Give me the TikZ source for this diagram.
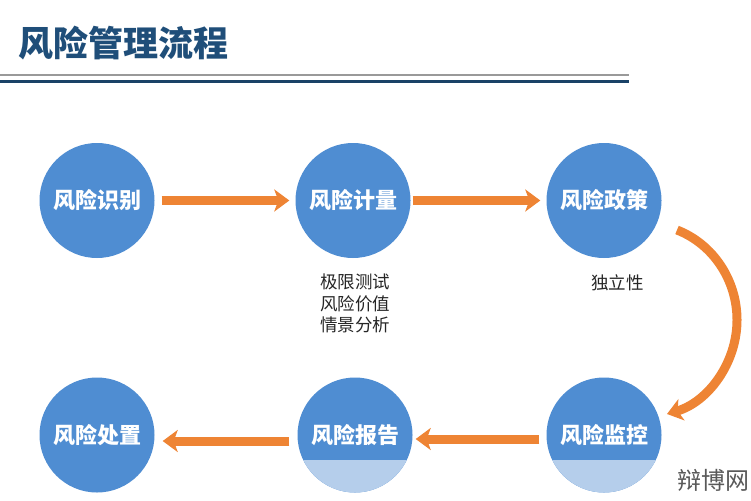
\documentclass[tikz,border=0pt]{standalone}
\usepackage{fontspec}
\setmainfont{Noto Sans CJK SC}
\usetikzlibrary{arrows.meta}
\definecolor{circ}{HTML}{4F8DD2}
\definecolor{band}{HTML}{B5CEEB}
\definecolor{org}{HTML}{EE8434}
\definecolor{ttl}{HTML}{1F4E79}
\tikzset{
  x=1pt,y=-1pt,
  stage/.style={circle,fill=circ,minimum size=115pt,inner sep=0pt,text=white,font=\fontsize{22}{24}\selectfont\bfseries},
  banded/.style={stage,path picture={\fill[band] ([xshift=-60pt,yshift=-25pt]path picture bounding box.center) rectangle ([xshift=60pt,yshift=-60pt]path picture bounding box.center);}},
  flow/.style={draw=org,line width=9pt,-{Stealth[length=15pt,width=22pt,inset=4pt]}},
  note/.style={align=center,text=black!85,font=\fontsize{17.5}{21.5}\selectfont},
}
\begin{document}
\begin{tikzpicture}
\useasboundingbox (0,0) rectangle (751,500);
\fill[white] (0,0) rectangle (751,500);
\node[anchor=west,text=ttl,font=\fontsize{35}{38}\selectfont\bfseries,inner sep=0pt] (title) at (18,43) {风险管理流程};
\coordinate (r1a) at (0,75); \coordinate (r1b) at (629,75);
\coordinate (r2a) at (0,81.5); \coordinate (r2b) at (629,81.5);
\draw[black!40,line width=1.3pt] (r1a) -- (r1b);
\draw[ttl!85!black,line width=3pt] (r2a) -- (r2b);
\node[stage] (a) at (97,200.5) {风险识别};
\node[stage] (b) at (353,200.5) {风险计量};
\node[stage] (c) at (604,200.5) {风险政策};
\node[stage] (f) at (97,435) {风险处置};
\node[banded] (e) at (355,435) {风险报告};
\node[banded] (d) at (604,435) {风险监控};
\node[note] (n1) at (355,303.5) {极限测试\\风险价值\\情景分析};
\node[note] (n2) at (617.5,282.5) {独立性};
\node[text=black!65,font=\fontsize{24}{26}\selectfont,inner sep=0pt] (wm) at (713,480) {辩博网};
\draw[flow] ([xshift=7pt]a.east) -- ([xshift=-6pt]b.west);
\draw[flow] ([xshift=2pt]b.east) -- ([xshift=-6pt]c.west);
\coordinate (cs) at (677,230); \coordinate (cm) at (737,320);
\coordinate (ce) at (667,414);
\draw[flow] (cs) .. controls (713,244) and (737,280) .. (cm) .. controls (737,363) and (708,402) .. (ce);
\draw[flow] ([xshift=-7pt,yshift=-4pt]d.west) -- ([xshift=3pt,yshift=-4pt]e.east);
\draw[flow] ([xshift=-8pt,yshift=-6pt]e.west) -- ([xshift=8pt,yshift=-6pt]f.east);
\end{tikzpicture}
\end{document}
